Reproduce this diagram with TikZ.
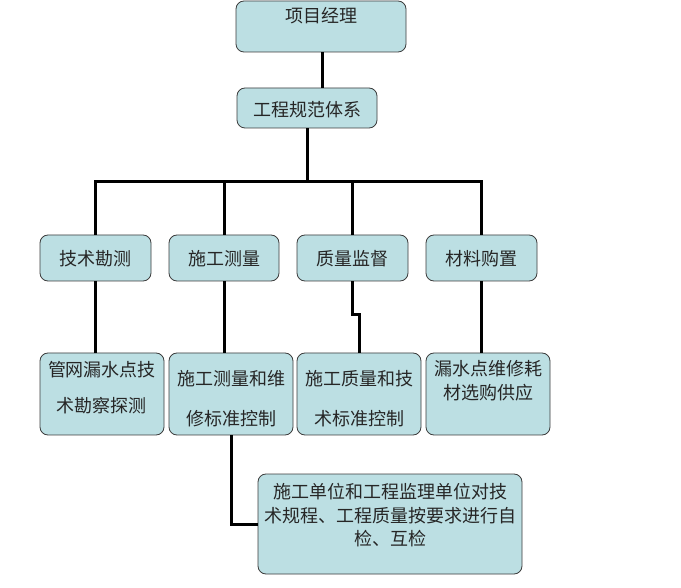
\documentclass[tikz,border=0pt]{standalone}
\usepackage{fontspec}
\newfontfamily\cjk{Noto Sans CJK SC}
\definecolor{boxfill}{RGB}{188,223,227}
\definecolor{boxline}{RGB}{60,60,60}
\tikzset{
  box/.style={draw=boxline, line width=0.8pt, fill=boxfill, rounded corners=8pt, inner sep=0pt},
  txt/.style={inner sep=0pt, align=center, text=black!85},
  link/.style={line width=3pt, black}
}
\begin{document}
\begin{tikzpicture}[x=1pt, y=-1pt]
\fill[white] (0,0) rectangle (681,588);
\useasboundingbox (0,0) rectangle (681,588);
\cjk
% level 0 and 1
\node[box, minimum width=170pt, minimum height=51pt] (A) at (321,26.5) {};
\node[txt, font={\cjk\fontsize{18}{22}\selectfont}] (At) at (321,16) {项目经理};
\node[box, minimum width=140pt, minimum height=40pt] (B) at (307,108) {};
\node[txt, font={\cjk\fontsize{18}{22}\selectfont}] (Bt) at (307,110) {工程规范体系};
% level 2
\node[box, minimum width=111pt, minimum height=46pt] (C1) at (95.5,258) {};
\node[box, minimum width=110pt, minimum height=46pt] (C2) at (224,258) {};
\node[box, minimum width=111pt, minimum height=46pt] (C3) at (352.5,258) {};
\node[box, minimum width=111pt, minimum height=46pt] (C4) at (481.5,258) {};
\node[txt, font={\cjk\fontsize{18}{22}\selectfont}] (C1t) at (95.5,259) {技术勘测};
\node[txt, font={\cjk\fontsize{18}{22}\selectfont}] (C2t) at (224,259) {施工测量};
\node[txt, font={\cjk\fontsize{18}{22}\selectfont}] (C3t) at (352.5,259) {质量监督};
\node[txt, font={\cjk\fontsize{18}{22}\selectfont}] (C4t) at (481.5,259) {材料购置};
% level 3
\node[box, minimum width=124pt, minimum height=82pt] (D1) at (102,394) {};
\node[box, minimum width=124pt, minimum height=82pt] (D2) at (231,394) {};
\node[box, minimum width=124pt, minimum height=82pt] (D3) at (359,394) {};
\node[box, minimum width=124pt, minimum height=82pt] (D4) at (488,394) {};
\node[txt, font={\cjk\fontsize{18}{36}\selectfont}] (D1t) at (102,388) {管网漏水点技\\术勘察探测};
\node[txt, font={\cjk\fontsize{18}{40}\selectfont}] (D2t) at (231,399) {施工测量和维\\修标准控制};
\node[txt, font={\cjk\fontsize{18}{40}\selectfont}] (D3t) at (359,399) {施工质量和技\\术标准控制};
\node[txt, font={\cjk\fontsize{18}{24}\selectfont}] (D4t) at (488,381) {漏水点维修耗\\材选购供应};
% bottom
\node[box, minimum width=264pt, minimum height=100pt] (E) at (390,524) {};
\node[txt, font={\cjk\fontsize{18}{23.5}\selectfont}] (Et) at (390,515.5) {施工单位和工程监理单位对技\\术规程、工程质量按要求进行自\\检、互检};
% helper coordinates
\coordinate (xa) at (322,0);
\coordinate (bar) at (0,182);
\coordinate (jog) at (0,315);
\coordinate (xe) at (0,525);
% connectors
\draw[link] (A.south -| xa) -- (B.north -| xa);
\draw[link] (B.south) -- (B.south |- bar);
\draw[link, line cap=rect] (C1.north |- bar) -- (C4.north |- bar);
\draw[link] (C1.north |- bar) -- (C1.north);
\draw[link] (C2.north |- bar) -- (C2.north);
\draw[link] (C3.north |- bar) -- (C3.north);
\draw[link] (C4.north |- bar) -- (C4.north);
\draw[link] (C1.south) -- (D1.north -| C1.south);
\draw[link] (C2.south) -- (D2.north -| C2.south);
\draw[link] (C3.south) -- (C3.south |- jog) -- (D3.north |- jog) -- (D3.north);
\draw[link] (C4.south) -- (D4.north -| C4.south);
\draw[link] (D2.south) -- (D2.south |- E.west) -- (E.west);
\end{tikzpicture}
\end{document}
